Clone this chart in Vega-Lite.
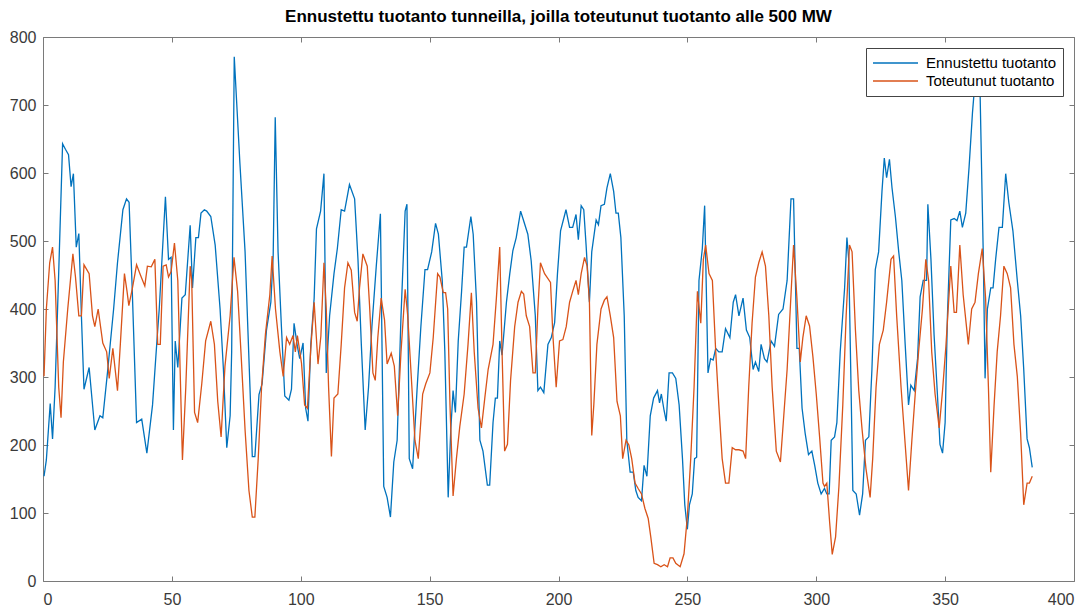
{
"$schema": "https://vega.github.io/schema/vega-lite/v6.json",
"autosize": "none",
"width": 1031,
"height": 544,
"padding": {"top": 37, "left": 43, "right": 18, "bottom": 26},
"background": "white",
"title": {"text": "Ennustettu tuotanto tunneilla, joilla toteutunut tuotanto alle 500 MW", "anchor": "middle", "font": "Liberation Sans", "fontSize": 17, "fontWeight": "bold", "color": "#000000", "offset": 3},
"config": {
  "view": {"stroke": null},
  "axis": {"grid": false, "domainColor": "#7a7a7a", "tickColor": "#7a7a7a", "labelColor": "#3a3a3a", "labelFont": "Liberation Sans", "labelFontSize": 16, "tickSize": -5, "title": null, "domainWidth": 1, "tickWidth": 1},
  "legend": {"orient": "none", "legendX": 823, "legendY": 11, "title": null, "strokeColor": "#444444", "fillColor": "white", "padding": 6, "symbolType": "stroke", "symbolSize": 2025, "symbolStrokeWidth": 1.5, "labelFont": "Liberation Sans", "labelFontSize": 15, "labelColor": "#000000", "rowPadding": 0, "clipHeight": 18, "labelOffset": 7}
},
"resolve": {"axis": {"x": "independent", "y": "independent"}},
"layer": [
{
"data": {"values": [
{"x":0.4,"v":154},{"x":1.3,"v":178},{"x":2.8,"v":261},{"x":3.7,"v":209},{"x":4.7,"v":285},{"x":6,"v":442},{"x":7.6,"v":643},{"x":8.7,"v":635},{"x":9.9,"v":627},{"x":10.9,"v":580},{"x":11.8,"v":599},{"x":12.9,"v":491},{"x":13.9,"v":511},{"x":14.9,"v":390},{"x":15.9,"v":282},{"x":17.9,"v":314},{"x":20.1,"v":222},{"x":22.1,"v":243},{"x":23.2,"v":240},{"x":25,"v":306},{"x":27.4,"v":400},{"x":28.9,"v":468},{"x":31,"v":546},{"x":32.4,"v":562},{"x":33.4,"v":557},{"x":34.6,"v":431},{"x":36.3,"v":233},{"x":38.3,"v":238},{"x":40.3,"v":188},{"x":42.5,"v":259},{"x":44.2,"v":353},{"x":45.1,"v":400},{"x":47.5,"v":565},{"x":48.7,"v":473},{"x":49.7,"v":476},{"x":50.6,"v":222},
{"x":51.3,"v":353},{"x":52.3,"v":314},{"x":53.9,"v":416},{"x":55.2,"v":421},{"x":57.1,"v":523},{"x":58,"v":431},{"x":59.3,"v":505},{"x":60.3,"v":505},{"x":61.3,"v":541},{"x":62.6,"v":546},{"x":63.5,"v":544},{"x":65.1,"v":536},{"x":66.8,"v":494},{"x":68.7,"v":400},{"x":70,"v":311},{"x":71.3,"v":196},{"x":72.6,"v":243},{"x":73.2,"v":337},{"x":74.2,"v":771},{"x":76.4,"v":614},{"x":78.4,"v":484},{"x":80.3,"v":285},{"x":81.2,"v":183},{"x":82.2,"v":183},{"x":83.8,"v":274},{"x":85,"v":290},{"x":86.7,"v":369},{"x":88.4,"v":410},{"x":89.3,"v":478},{"x":90.1,"v":682},{"x":91.2,"v":484},{"x":92.5,"v":374},{"x":93.8,"v":272},{"x":95.4,"v":266},{"x":96.4,"v":282},{"x":97.4,"v":379},{"x":98.7,"v":345},{"x":99.6,"v":327},
{"x":100.9,"v":350},{"x":101.9,"v":254},{"x":102.8,"v":235},{"x":103.9,"v":348},{"x":105.2,"v":416},{"x":106.1,"v":518},{"x":107.7,"v":544},{"x":109,"v":599},{"x":109.9,"v":306},{"x":111.2,"v":390},{"x":112.9,"v":452},{"x":114.2,"v":489},{"x":115.7,"v":546},{"x":117,"v":544},{"x":118.9,"v":583},{"x":120.9,"v":562},{"x":122.2,"v":473},{"x":123.5,"v":348},{"x":125,"v":222},{"x":126.3,"v":285},{"x":127.6,"v":374},{"x":129.3,"v":463},{"x":130.9,"v":540},{"x":132.2,"v":139},{"x":133.5,"v":123},{"x":134.8,"v":94},{"x":136.1,"v":175},{"x":137.4,"v":207},{"x":138.9,"v":390},{"x":140.5,"v":544},{"x":141.2,"v":554},{"x":142.1,"v":180},{"x":143.4,"v":165},{"x":145.1,"v":280},{"x":146.6,"v":374},{"x":148.2,"v":458},{"x":149.2,"v":458},
{"x":150.8,"v":484},{"x":152.3,"v":526},{"x":153.4,"v":510},{"x":154.9,"v":442},{"x":155.9,"v":337},{"x":157.2,"v":123},{"x":158.2,"v":222},{"x":159.1,"v":280},{"x":160,"v":248},{"x":161.1,"v":353},{"x":162.4,"v":426},{"x":163.4,"v":491},{"x":164.3,"v":491},{"x":166,"v":536},{"x":166.9,"v":510},{"x":168.2,"v":410},{"x":169.5,"v":207},{"x":170.7,"v":191},{"x":172.4,"v":141},{"x":173.3,"v":141},{"x":174.6,"v":233},{"x":175.5,"v":269},{"x":176.3,"v":269},{"x":177.2,"v":353},{"x":178.1,"v":332},{"x":179.8,"v":410},{"x":181.1,"v":452},{"x":182.3,"v":486},{"x":183.6,"v":505},{"x":185.3,"v":544},{"x":186.2,"v":533},{"x":188.1,"v":510},{"x":189.4,"v":471},{"x":191,"v":390},{"x":192,"v":280},{"x":193,"v":285},{"x":194.3,"v":277},{"x":195.9,"v":348},{"x":197.2,"v":358},{"x":198.5,"v":380},{"x":199.6,"v":452},
{"x":200.8,"v":515},{"x":202.9,"v":546},{"x":204.3,"v":520},{"x":205.5,"v":520},{"x":206.8,"v":539},{"x":207.7,"v":502},{"x":208.8,"v":552},{"x":209.8,"v":546},{"x":210.7,"v":494},{"x":212,"v":410},{"x":212.9,"v":484},{"x":214.6,"v":531},{"x":215.5,"v":524},{"x":216.5,"v":552},{"x":217.8,"v":554},{"x":218.8,"v":578},{"x":220.1,"v":599},{"x":221.4,"v":573},{"x":222.3,"v":541},{"x":223.2,"v":541},{"x":224.2,"v":505},{"x":225.5,"v":390},{"x":226.5,"v":207},{"x":227.8,"v":160},{"x":229,"v":160},{"x":230,"v":133},{"x":230.9,"v":123},{"x":232.2,"v":118},{"x":233.2,"v":170},{"x":234.3,"v":154},{"x":235.6,"v":243},{"x":236.9,"v":269},{"x":238.4,"v":280},{"x":239.2,"v":262},{"x":239.9,"v":275},{"x":241,"v":250},{"x":241.8,"v":235},{"x":242.9,"v":306},{"x":244.2,"v":306},{"x":245.5,"v":298},{"x":246.8,"v":259},{"x":248.1,"v":180},{"x":249,"v":112},{"x":250,"v":76},
{"x":250.8,"v":112},{"x":251.9,"v":128},{"x":252.8,"v":180},{"x":253.6,"v":182},{"x":254.5,"v":442},{"x":255.8,"v":489},{"x":256.7,"v":552},{"x":258,"v":306},{"x":259,"v":327},{"x":260,"v":325},{"x":261,"v":342},{"x":262.2,"v":337},{"x":263.5,"v":337},{"x":264.8,"v":371},{"x":266.5,"v":358},{"x":267.8,"v":410},{"x":268.7,"v":421},{"x":270,"v":390},{"x":271.6,"v":416},{"x":272.9,"v":369},{"x":274.2,"v":358},{"x":275.5,"v":311},{"x":276.4,"v":322},{"x":277.7,"v":308},{"x":278.6,"v":348},{"x":279.9,"v":327},{"x":280.9,"v":322},{"x":282.5,"v":353},{"x":283.8,"v":345},{"x":285.4,"v":392},{"x":287.1,"v":400},{"x":288.7,"v":442},{"x":290.2,"v":562},{"x":291.2,"v":562},{"x":292.5,"v":342},{"x":293.4,"v":342},{"x":294.5,"v":254},{"x":295.7,"v":217},{"x":297,"v":186},{"x":298.3,"v":191},{"x":299.4,"v":170},
{"x":300.6,"v":144},{"x":301.9,"v":128},{"x":303.2,"v":136},{"x":304.1,"v":128},{"x":305,"v":128},{"x":305.8,"v":207},{"x":307.1,"v":212},{"x":308,"v":233},{"x":309.3,"v":337},{"x":311,"v":431},{"x":311.9,"v":505},{"x":312.6,"v":473},{"x":313.5,"v":285},{"x":314.2,"v":133},{"x":315.5,"v":128},{"x":316.8,"v":97},{"x":318,"v":128},{"x":319.1,"v":207},{"x":320.4,"v":212},{"x":321.6,"v":311},{"x":322.9,"v":458},{"x":324.2,"v":484},{"x":325.5,"v":573},{"x":326.4,"v":622},{"x":327.3,"v":593},{"x":328.4,"v":620},{"x":329.4,"v":578},{"x":330.7,"v":536},{"x":332,"v":484},{"x":333.2,"v":442},{"x":334.5,"v":348},{"x":335.8,"v":259},{"x":336.7,"v":288},{"x":338,"v":280},{"x":339.3,"v":327},{"x":340.3,"v":418},{"x":341.5,"v":442},{"x":342.8,"v":442},{"x":343.3,"v":554},{"x":344.5,"v":473},{"x":345.7,"v":363},{"x":347,"v":275},{"x":348,"v":201},{"x":349,"v":188},
{"x":350,"v":233},{"x":350.9,"v":390},{"x":352.2,"v":531},{"x":353.5,"v":533},{"x":354.6,"v":530},{"x":355.7,"v":544},{"x":356.7,"v":520},{"x":358,"v":541},{"x":359.3,"v":609},{"x":360.6,"v":688},{"x":361.5,"v":730},{"x":362.5,"v":755},{"x":363.5,"v":730},{"x":364.8,"v":480},{"x":365.5,"v":298},{"x":366.4,"v":400},{"x":367.7,"v":431},{"x":368.6,"v":431},{"x":369.6,"v":473},{"x":370.9,"v":520},{"x":372.2,"v":520},{"x":373.5,"v":599},{"x":374.7,"v":557},{"x":376.3,"v":515},{"x":378,"v":442},{"x":379.3,"v":390},{"x":380.5,"v":311},{"x":381.8,"v":209},{"x":382.7,"v":196},{"x":383.8,"v":167}
]},
"mark": {"type": "line", "strokeWidth": 1.3, "interpolate": "linear"},
"encoding": {
  "x": {"field": "x", "type": "quantitative", "scale": {"domain": [0, 400], "nice": false, "zero": false}, "axis": {"orient": "bottom", "values": [0,50,100,150,200,250,300,350,400], "labelPadding": 15}},
  "y": {"field": "v", "type": "quantitative", "scale": {"domain": [0, 800], "nice": false}, "axis": {"orient": "left", "values": [0,100,200,300,400,500,600,700,800], "labelPadding": 12}},
  "color": {"datum": "Ennustettu tuotanto", "type": "nominal", "scale": {"domain": ["Ennustettu tuotanto", "Toteutunut tuotanto"], "range": ["#0072BD", "#D95319"]}}
}
},
{
"data": {"values": [
{"x":0.4,"v":301},{"x":1.3,"v":400},{"x":2.6,"v":468},{"x":3.7,"v":491},{"x":4.7,"v":442},{"x":6.1,"v":285},{"x":7,"v":240},{"x":7.9,"v":322},{"x":9.6,"v":400},{"x":11.6,"v":481},{"x":12.6,"v":447},{"x":13.9,"v":390},{"x":14.9,"v":390},{"x":15.9,"v":465},{"x":17.9,"v":452},{"x":19.2,"v":390},{"x":20.1,"v":374},{"x":21.4,"v":400},{"x":23.2,"v":350},{"x":24.7,"v":337},{"x":25.7,"v":298},{"x":27.1,"v":342},{"x":28.9,"v":280},{"x":30,"v":348},{"x":31.6,"v":452},{"x":32.6,"v":426},{"x":33.3,"v":405},{"x":34.6,"v":429},{"x":36.3,"v":465},{"x":37.8,"v":450},{"x":39.5,"v":434},{"x":40.5,"v":463},{"x":42,"v":462},{"x":43.4,"v":473},{"x":44.5,"v":348},{"x":45.5,"v":348},{"x":46.6,"v":463},{"x":47.8,"v":465},{"x":48.7,"v":447},{"x":49.7,"v":455},
{"x":51,"v":497},{"x":52.3,"v":442},{"x":53.2,"v":311},{"x":54.1,"v":178},{"x":55.4,"v":285},{"x":57.1,"v":463},{"x":57.7,"v":442},{"x":58.8,"v":248},{"x":60,"v":233},{"x":61.6,"v":290},{"x":63.1,"v":353},{"x":65.1,"v":382},{"x":66.5,"v":348},{"x":67.8,"v":264},{"x":69.1,"v":212},{"x":70.6,"v":316},{"x":72.6,"v":390},{"x":74.1,"v":476},{"x":75.5,"v":426},{"x":76.8,"v":337},{"x":78.4,"v":222},{"x":79.9,"v":133},{"x":81.2,"v":94},{"x":82.2,"v":94},{"x":83.5,"v":180},{"x":84.8,"v":285},{"x":86.3,"v":363},{"x":88,"v":421},{"x":88.9,"v":478},{"x":90.2,"v":400},{"x":91.9,"v":337},{"x":93.2,"v":301},{"x":94.5,"v":358},{"x":95.7,"v":348},{"x":97,"v":361},{"x":97.9,"v":337},{"x":98.7,"v":361},
{"x":100.3,"v":320},{"x":101.5,"v":259},{"x":102.6,"v":254},{"x":103.9,"v":342},{"x":105.2,"v":410},{"x":106.7,"v":319},{"x":107.8,"v":360},{"x":109,"v":468},{"x":109.9,"v":400},{"x":110.8,"v":285},{"x":111.9,"v":183},{"x":112.9,"v":269},{"x":114.4,"v":275},{"x":115.7,"v":348},{"x":117,"v":431},{"x":118.3,"v":468},{"x":119.6,"v":457},{"x":120.9,"v":395},{"x":121.9,"v":382},{"x":122.8,"v":431},{"x":124.1,"v":481},{"x":125.8,"v":463},{"x":126.7,"v":405},{"x":128,"v":306},{"x":128.9,"v":295},{"x":129.9,"v":358},{"x":131.2,"v":416},{"x":132.5,"v":384},{"x":133.5,"v":319},{"x":135.1,"v":335},{"x":136.3,"v":316},{"x":137.6,"v":243},{"x":138.9,"v":337},{"x":140.5,"v":429},{"x":141.5,"v":390},{"x":142.8,"v":306},{"x":144.3,"v":207},{"x":145.6,"v":180},{"x":147.3,"v":275},{"x":148.5,"v":290},
{"x":150.1,"v":306},{"x":151.4,"v":358},{"x":153.1,"v":452},{"x":154,"v":447},{"x":155.3,"v":424},{"x":156.2,"v":424},{"x":157,"v":400},{"x":157.9,"v":259},{"x":159.1,"v":125},{"x":160.4,"v":180},{"x":161.7,"v":227},{"x":163.4,"v":275},{"x":164.9,"v":348},{"x":166.2,"v":424},{"x":167.3,"v":337},{"x":168.8,"v":254},{"x":170.1,"v":225},{"x":171.4,"v":269},{"x":172.7,"v":311},{"x":174.6,"v":348},{"x":175.9,"v":416},{"x":177.2,"v":491},{"x":178.1,"v":337},{"x":179.1,"v":191},{"x":180.2,"v":201},{"x":181.4,"v":295},{"x":183,"v":374},{"x":184.3,"v":410},{"x":185.6,"v":426},{"x":186.5,"v":422},{"x":187.5,"v":390},{"x":188.8,"v":374},{"x":190.1,"v":306},{"x":191,"v":306},{"x":192,"v":400},{"x":193,"v":468},{"x":194.6,"v":452},{"x":196.9,"v":439},{"x":197.8,"v":363},{"x":199.1,"v":285},
{"x":200.4,"v":353},{"x":201.7,"v":355},{"x":203,"v":374},{"x":204.3,"v":410},{"x":205.5,"v":426},{"x":206.8,"v":442},{"x":207.7,"v":421},{"x":208.8,"v":452},{"x":210.1,"v":476},{"x":211.1,"v":463},{"x":212,"v":410},{"x":212.9,"v":214},{"x":213.7,"v":259},{"x":214.9,"v":348},{"x":216.5,"v":400},{"x":217.8,"v":413},{"x":218.8,"v":418},{"x":220.1,"v":390},{"x":221.4,"v":358},{"x":222.7,"v":264},{"x":224,"v":243},{"x":224.9,"v":180},{"x":226.2,"v":207},{"x":227.3,"v":200},{"x":228.4,"v":180},{"x":229.7,"v":144},{"x":230.9,"v":136},{"x":232.2,"v":128},{"x":233.5,"v":107},{"x":234.8,"v":92},{"x":235.8,"v":65},{"x":237.1,"v":26},{"x":238.4,"v":24},{"x":239.7,"v":21},{"x":241,"v":24},{"x":242.3,"v":21},{"x":243.3,"v":34},{"x":244.4,"v":34},{"x":245.5,"v":26},{"x":247.2,"v":21},{"x":248.7,"v":40},
{"x":250,"v":95},{"x":251.3,"v":180},{"x":252.6,"v":285},{"x":253.9,"v":426},{"x":255.2,"v":379},{"x":256.2,"v":473},{"x":257.1,"v":494},{"x":258.4,"v":452},{"x":259.7,"v":442},{"x":261,"v":337},{"x":262.2,"v":259},{"x":263.5,"v":180},{"x":264.8,"v":144},{"x":266.1,"v":144},{"x":267.4,"v":196},{"x":268.7,"v":193},{"x":270,"v":193},{"x":271.6,"v":191},{"x":272.6,"v":180},{"x":273.8,"v":285},{"x":275.1,"v":379},{"x":276.4,"v":447},{"x":277.7,"v":468},{"x":279,"v":484},{"x":280.3,"v":463},{"x":281.6,"v":390},{"x":282.9,"v":285},{"x":284.5,"v":191},{"x":286.1,"v":175},{"x":287.4,"v":243},{"x":288.7,"v":311},{"x":290.2,"v":421},{"x":291.2,"v":494},{"x":292.5,"v":416},{"x":293.8,"v":322},{"x":294.8,"v":358},{"x":296.1,"v":390},{"x":297.4,"v":375},{"x":298.7,"v":330},
{"x":300,"v":275},{"x":301.3,"v":212},{"x":302.6,"v":144},{"x":303.2,"v":139},{"x":304.1,"v":144},{"x":305.2,"v":86},{"x":306.2,"v":39},{"x":307.5,"v":65},{"x":308.8,"v":139},{"x":310.3,"v":259},{"x":311.6,"v":390},{"x":312.9,"v":494},{"x":313.9,"v":484},{"x":315.2,"v":369},{"x":316.5,"v":280},{"x":317.8,"v":222},{"x":319.3,"v":165},{"x":320.9,"v":123},{"x":321.9,"v":180},{"x":323.2,"v":285},{"x":324.5,"v":348},{"x":326,"v":369},{"x":327.3,"v":410},{"x":329,"v":473},{"x":330,"v":478},{"x":331.2,"v":390},{"x":332.9,"v":285},{"x":334.1,"v":222},{"x":335.8,"v":133},{"x":337.1,"v":207},{"x":338.4,"v":275},{"x":339.7,"v":337},{"x":341.2,"v":400},{"x":342.5,"v":473},{"x":343.6,"v":442},{"x":344.8,"v":337},{"x":346.1,"v":275},{"x":347.7,"v":225},{"x":349,"v":280},
{"x":350.3,"v":345},{"x":352.2,"v":463},{"x":353.5,"v":395},{"x":354.4,"v":395},{"x":355.7,"v":494},{"x":357,"v":421},{"x":359,"v":348},{"x":360.3,"v":400},{"x":361.6,"v":410},{"x":362.9,"v":452},{"x":364.4,"v":489},{"x":365.7,"v":416},{"x":366.8,"v":285},{"x":367.7,"v":160},{"x":369,"v":259},{"x":370.2,"v":337},{"x":371.5,"v":390},{"x":372.8,"v":463},{"x":374.1,"v":452},{"x":375.4,"v":431},{"x":376.7,"v":348},{"x":378,"v":301},{"x":379.3,"v":217},{"x":380.5,"v":112},{"x":381.8,"v":144},{"x":382.7,"v":144},{"x":383.8,"v":154}
]},
"mark": {"type": "line", "strokeWidth": 1.3, "interpolate": "linear"},
"encoding": {
  "x": {"field": "x", "type": "quantitative", "scale": {"domain": [0, 400], "nice": false, "zero": false}, "axis": {"orient": "top", "values": [0,50,100,150,200,250,300,350,400], "labels": false}},
  "y": {"field": "v", "type": "quantitative", "scale": {"domain": [0, 800], "nice": false}, "axis": {"orient": "right", "values": [0,100,200,300,400,500,600,700,800], "labels": false}},
  "color": {"datum": "Toteutunut tuotanto", "type": "nominal"}
}
}
]
}
